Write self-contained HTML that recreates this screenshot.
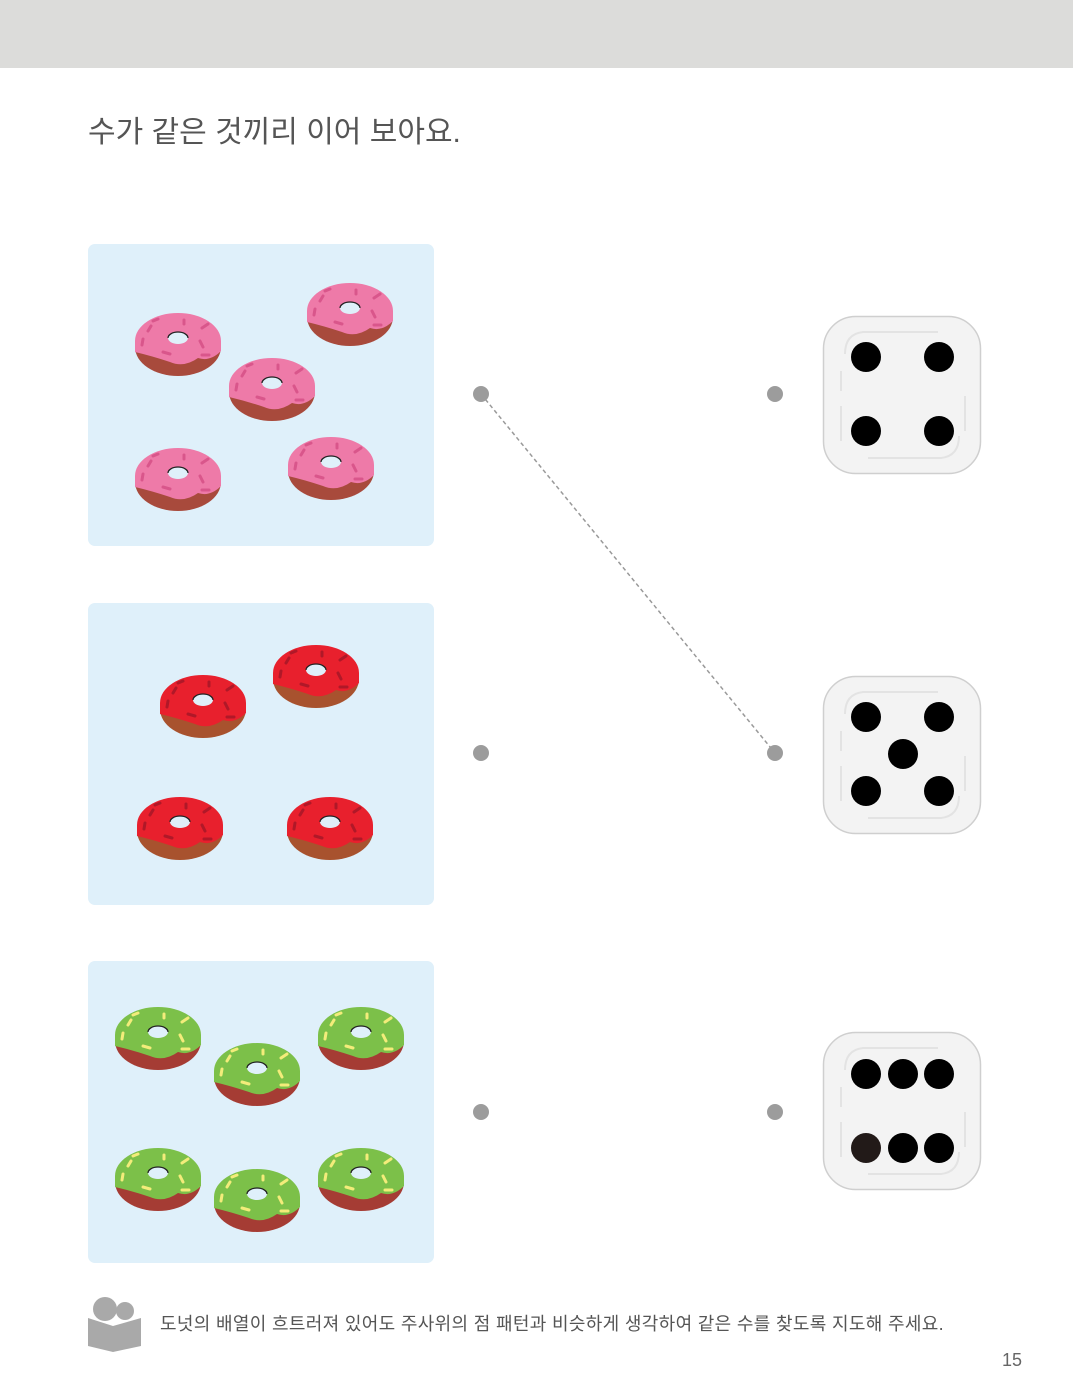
<!DOCTYPE html>
<html><head><meta charset="utf-8"><style>
html,body{margin:0;padding:0;background:#fff;}
body{width:1073px;height:1400px;position:relative;overflow:hidden;font-family:"Liberation Sans","Noto Sans CJK KR",sans-serif;}
</style></head><body>
<svg width="1073" height="1400" xmlns="http://www.w3.org/2000/svg" style="position:absolute;left:0;top:0">
<defs>
<g id="dn">
<ellipse cx="0" cy="4" rx="43" ry="29" fill="var(--b)"/>
<path d="M-43,-2 A43,28 0 0 1 43,-2 L43,8 Q32,19 20,15 Q6,25 -8,19 Q-26,13 -43,9 Z" fill="var(--c)"/>
<ellipse cx="0" cy="-5" rx="10" ry="6" fill="#dff0fa"/>
<path d="M-10,-5 A10,6 0 0 1 10,-5" fill="none" stroke="#222" stroke-width="1.3"/>
<g stroke="var(--s)" stroke-width="3" stroke-linecap="round">
<line x1="-30" y1="-12" x2="-27" y2="-17"/><line x1="-36" y1="2" x2="-35" y2="-4"/>
<line x1="-15" y1="9" x2="-8" y2="11"/><line x1="24" y1="-15" x2="30" y2="-19"/>
<line x1="22" y1="-2" x2="25" y2="4"/><line x1="24" y1="12" x2="31" y2="12"/>
<line x1="-25" y1="-22" x2="-20" y2="-24"/><line x1="6" y1="-23" x2="6" y2="-19"/>
</g>
</g>
<g id="die">
<rect x="0.5" y="0.5" width="157" height="157" rx="32" fill="#f3f3f3" stroke="#cfcfcf" stroke-width="1.5"/>
<path d="M22,38 Q22,18 40,16 L115,16" fill="none" stroke="#e3e3e3" stroke-width="2"/>
<path d="M136,120 Q136,140 118,142 L45,142" fill="none" stroke="#e3e3e3" stroke-width="2"/>
<line x1="18" y1="55" x2="18" y2="75" stroke="#e3e3e3" stroke-width="2"/>
<line x1="18" y1="90" x2="18" y2="125" stroke="#e3e3e3" stroke-width="2"/>
<line x1="142" y1="80" x2="142" y2="115" stroke="#e3e3e3" stroke-width="2"/>
</g>
</defs>
<rect x="0" y="0" width="1073" height="68" fill="#dcdcda"/>
<text x="88" y="142" font-size="30" fill="#555" font-family="Liberation Sans, Noto Sans CJK KR, sans-serif">수가 같은 것끼리 이어 보아요.</text>

<rect x="88" y="244" width="346" height="302" rx="7" fill="#dff0fa"/>
<rect x="88" y="603" width="346" height="302" rx="7" fill="#dff0fa"/>
<rect x="88" y="961" width="346" height="302" rx="7" fill="#dff0fa"/>

<g style="--b:#a84a3c;--c:#ee7aa8;--s:#d9568b">
<use href="#dn" x="178" y="343"/><use href="#dn" x="350" y="313"/><use href="#dn" x="272" y="388"/><use href="#dn" x="178" y="478"/><use href="#dn" x="331" y="467"/>
</g>
<g style="--b:#a8522e;--c:#e8202d;--s:#b01828">
<use href="#dn" x="203" y="705"/><use href="#dn" x="316" y="675"/><use href="#dn" x="180" y="827"/><use href="#dn" x="330" y="827"/>
</g>
<g style="--b:#a53c34;--c:#7cc049;--s:#f3ec7a">
<use href="#dn" x="158" y="1037"/><use href="#dn" x="361" y="1037"/><use href="#dn" x="257" y="1073"/><use href="#dn" x="158" y="1178"/><use href="#dn" x="257" y="1199"/><use href="#dn" x="361" y="1178"/>
</g>

<line x1="481" y1="394" x2="775" y2="753" stroke="#999" stroke-width="1.5" stroke-dasharray="4,3"/>
<g fill="#9c9c9c">
<circle cx="481" cy="394" r="8"/><circle cx="775" cy="394" r="8"/>
<circle cx="481" cy="753" r="8"/><circle cx="775" cy="753" r="8"/>
<circle cx="481" cy="1112" r="8"/><circle cx="775" cy="1112" r="8"/>
</g>

<use href="#die" x="823" y="316"/><use href="#die" x="823" y="676"/><use href="#die" x="823" y="1032"/>
<g fill="#000">
<circle cx="866" cy="357" r="15"/><circle cx="939" cy="357" r="15"/><circle cx="866" cy="431" r="15"/><circle cx="939" cy="431" r="15"/>
<circle cx="866" cy="717" r="15"/><circle cx="939" cy="717" r="15"/><circle cx="903" cy="754" r="15"/><circle cx="866" cy="791" r="15"/><circle cx="939" cy="791" r="15"/>
<circle cx="866" cy="1074" r="15"/><circle cx="903" cy="1074" r="15"/><circle cx="939" cy="1074" r="15"/>
<circle cx="866" cy="1148" r="15" fill="#221a18"/><circle cx="903" cy="1148" r="15"/><circle cx="939" cy="1148" r="15"/>
</g>

<g fill="#a9a9a9">
<circle cx="105" cy="1309" r="12"/><circle cx="125" cy="1311" r="9"/>
<path d="M88,1318 L113,1326 L141,1318 L141,1346 L113,1352 L88,1346 Z"/>
</g>
<text x="160" y="1330" font-size="18" letter-spacing="0.33" fill="#555" font-family="Liberation Sans, Noto Sans CJK KR, sans-serif">도넛의 배열이 흐트러져 있어도 주사위의 점 패턴과 비슷하게 생각하여 같은 수를 찾도록 지도해 주세요.</text>
<text x="1002" y="1366" font-size="18" fill="#666">15</text>
</svg>
</body></html>
